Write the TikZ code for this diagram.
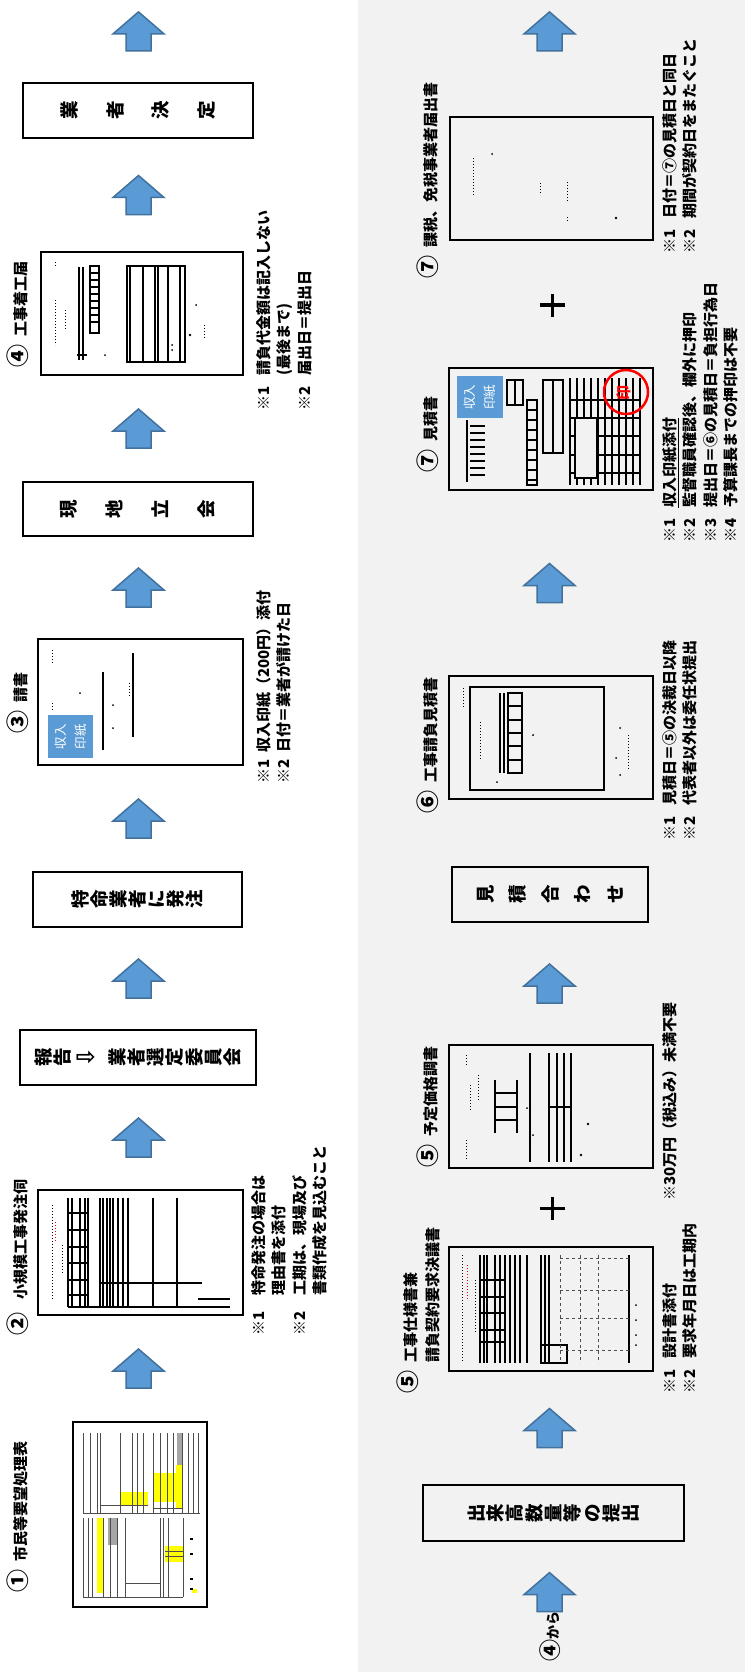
\documentclass[tikz,border=0pt]{standalone}
\usepackage{fontspec}
\setmainfont{Noto Sans CJK JP}
\newfontfamily\symfont{DejaVu Sans}
\usetikzlibrary{calc}

\definecolor{flowblue}{HTML}{5B9BD5}
\definecolor{flowedge}{HTML}{41719C}
\definecolor{panelgray}{HTML}{F2F2F2}
\definecolor{markyellow}{HTML}{FFFF00}

\newcommand{\maru}[2][8pt]{{\fontsize{23}{23}\selectfont #2}\hspace{#1}}
\newcommand{\kome}[2][35pt]{\makebox[#1][l]{※#2}}

\tikzset{
  framebox/.style={draw, line width=2.2pt, inner sep=0pt},
  boxtext/.style={rotate=90, align=center, inner sep=0pt, font=\bfseries\fontsize{18.5}{19.3}\selectfont},
  doclabel/.style={rotate=90, anchor=base west, inner sep=0pt, font=\bfseries\fontsize{15}{20}\selectfont},
  notetext/.style={rotate=90, anchor=north west, align=left, inner sep=0pt, font=\bfseries\fontsize{15}{20.5}\selectfont},
  stamptext/.style={rotate=90, align=left, inner sep=0pt, text=white, font=\fontsize{12.5}{20}\selectfont},
  formline/.style={line width=1.2pt},
  thinline/.style={line width=0.8pt, gray!60!black},
  marks/.style={dotted, line width=1pt},
  plusmark/.style={line width=3.3pt},
  uparr/.pic={
    \draw[fill=flowblue, draw=flowedge, line width=1.5pt]
      (-12.5,-19.5) -- (-12.5,-2.5) -- (-25.5,-2.5) -- (0,19.5)
      -- (25.5,-2.5) -- (12.5,-2.5) -- (12.5,-19.5) -- cycle;
  }
}

\begin{document}
\begin{tikzpicture}[x=1pt, y=1pt]
  \useasboundingbox (0,0) rectangle (745,-1672);
  \fill[white] (0,0) rectangle (358,-1672);
  \fill[panelgray] (358,0) rectangle (745,-1672);
  \coordinate (colA) at (138.5,0);
  \coordinate (colB) at (549.5,0);

  % ---- left column ----
  \node[framebox, minimum width=134pt, minimum height=185pt] (shimin) at (140,-1514.5) {};
  \node[doclabel] (shiminlbl) at (27,-1593) {\maru{①}市民等要望処理表};
  \fill[markyellow] (120,-1492) rectangle (148,-1505);
  \fill[markyellow] (154,-1473) rectangle (176,-1502);
  \fill[markyellow] (176,-1465) rectangle (183,-1508);
  \fill[markyellow] (97,-1518) rectangle (103,-1593);
  \fill[markyellow] (165,-1546) rectangle (183,-1562);
  \fill[markyellow] (192,-1589) rectangle (197,-1593);
  \fill[gray!70] (177,-1433) rectangle (183,-1465);
  \fill[gray!70] (108,-1518) rectangle (117,-1545);
  \foreach \x in {83,90,97,100,120,132,137,143,153,160,167,173,182,188,193,198}
    \draw[thinline] (\x,-1433) -- (\x,-1513);
  \foreach \x in {83,88,92,103,110,117,125,160,163,168,183}
    \draw[thinline] (\x,-1518) -- (\x,-1597);
  \draw[thinline] (83,-1513) -- (200,-1513) (100,-1505) -- (148,-1505) (153,-1508) -- (183,-1508);
  \draw[thinline] (83,-1597) -- (183,-1597) (125,-1583) -- (160,-1583) (165,-1551) -- (183,-1551) (165,-1556) -- (183,-1556);
  \foreach \y in {1538,1553,1578,1588}
    \fill (190,-\y) rectangle (193,-\y-2);

  \node[framebox, minimum width=205pt, minimum height=125pt] (ukagai) at (140.5,-1252.5) {};
  \node[doclabel] (ukagailbl) at (27,-1336) {\maru[13pt]{②}小規模工事発注伺};
  \foreach \x in {68,72,80,85,88,100,103,107,110,113,118,123,128,153,177}
    \draw[line width=1.5pt] (\x,-1198) -- (\x,-1307);
  \foreach \y in {1213,1230,1247,1263,1280,1295}
    \draw[line width=1.5pt] (68,-\y) -- (88,-\y);
  \draw[line width=1.5pt] (100,-1283) -- (202,-1283) (68,-1307) -- (230,-1307) (198,-1299) -- (230,-1299);
  \draw[marks] (52,-1205) -- (52,-1300) (62,-1245) -- (62,-1275);
  \draw[marks, red] (55,-1222) -- (55,-1242);
  \node[notetext] (ukagainote) at (251,-1336) {\kome[40pt]{1}特命発注の場合は\\\hspace*{40pt}理由書を添付\\\kome[40pt]{2}工期は、現場及び\\\hspace*{40pt}書類作成を見込むこと};

  \node[framebox, minimum width=236pt, minimum height=55pt] (houkoku) at (138,-1057.5) {};
  \node[boxtext] at (houkoku) {報\\告\\[6pt]{\symfont\fontsize{24}{19.3}\selectfont ⇩}\\[10pt]業\\者\\選\\定\\委\\員\\会};

  \node[framebox, minimum width=209pt, minimum height=55pt] (tokumei) at (137.5,-899.5) {};
  \node[boxtext, font=\bfseries\fontsize{18.5}{19}\selectfont] at (tokumei) {特\\命\\業\\者\\に\\発\\注};

  \node[framebox, minimum width=205pt, minimum height=126pt] (ukesho) at (140.5,-702) {};
  \node[doclabel] (ukesholbl) at (27,-734) {\maru{③}請書};
  \fill[flowblue] (48,-715) rectangle (93,-758);
  \node[stamptext] at (70.5,-736.5) {収入\\印紙};
  \draw[line width=2pt] (103,-672) -- (103,-750) (133,-653) -- (133,-737);
  \draw[marks] (52,-650) -- (52,-663) (52,-703) -- (52,-712) (129,-683) -- (129,-696);
  \fill (80,-693) circle (1) (113,-705) circle (1) (113,-728) circle (1);
  \node[notetext] (ukeshonote) at (256,-784) {\kome[31pt]{1}収入印紙（200円）添付\\\kome[31pt]{2}日付＝業者が請けた日};

  \node[framebox, minimum width=230pt, minimum height=54pt] (genchi) at (138,-509) {};
  \node[boxtext, font=\bfseries\fontsize{18.5}{46}\selectfont] at (genchi) {現\\地\\立\\会};

  \node[framebox, minimum width=202pt, minimum height=123pt] (chakko) at (142,-313.5) {};
  \node[doclabel] (chakkolbl) at (27,-368) {\maru{④}工事着工届};
  \draw[formline] (79,-267) -- (79,-360) (83,-267) -- (83,-360) (77,-355) -- (87,-355);
  \draw[formline] (90,-266) rectangle (99,-333);
  \foreach \y in {273,280,...,326}
    \draw[formline] (90,-\y) -- (99,-\y);
  \draw[line width=1.6pt] (127,-266) rectangle (185,-362);
  \foreach \x in {130,143,155,158,168,180}
    \draw[formline] (\x,-266) -- (\x,-362);
  \draw[marks] (55,-262) -- (55,-268) (55,-300) -- (55,-345) (65,-310) -- (65,-330) (204,-325) -- (204,-340);
  \fill (105,-355) circle (1) (190,-335) circle (1.3) (196,-305) circle (1) (172,-345) circle (1) (172,-350) circle (1);
  \node[notetext] (chakkonote) at (256,-411) {\kome{1}請負代金額は記入しない\\\hspace*{35pt}(最後まで)\\\kome{2}届出日＝提出日};

  \node[framebox, minimum width=230pt, minimum height=55pt] (kettei) at (138,-110.5) {};
  \node[boxtext, font=\bfseries\fontsize{18.5}{45.5}\selectfont] at (kettei) {業\\者\\決\\定};

  \path ($(colA |- shimin.north)!.5!(colA |- ukagai.south)$) pic {uparr};
  \path ($(colA |- ukagai.north)!.5!(colA |- houkoku.south)$) pic {uparr};
  \path ($(colA |- houkoku.north)!.5!(colA |- tokumei.south)$) pic {uparr};
  \path ($(colA |- tokumei.north)!.5!(colA |- ukesho.south)$) pic {uparr};
  \path ($(colA |- ukesho.north)!.5!(colA |- genchi.south)$) pic {uparr};
  \path ($(colA |- genchi.north)!.5!(colA |- chakko.south)$) pic {uparr};
  \path ($(colA |- chakko.north)!.5!(colA |- kettei.south)$) pic {uparr};
  \path ($(colA |- kettei.north)+(0,50.5)$) pic {uparr};

  % ---- right column ----
  \node[doclabel, font=\bfseries\fontsize{14}{14}\selectfont] (kara) at (558,-1662) {{\fontsize{22}{22}\selectfont ④}から};

  \node[framebox, minimum width=261pt, minimum height=56pt] (dekidaka) at (553.5,-1513) {};
  \node[boxtext] at (dekidaka) {出\\来\\高\\数\\量\\等\\の\\提\\出};

  \node[framebox, minimum width=204pt, minimum height=124pt] (shiyou) at (551,-1309) {};
  \node[doclabel] (shiyoulbl) at (416,-1394) {\maru{⑤}工事仕様書兼};
  \node[doclabel] (shiyoulbltwo) at (438,-1363) {請負契約要求決議書};
  \foreach \x in {480,484,487,495,500,505,510,515,520,527,541,545,549}
    \draw[formline] (\x,-1255) -- (\x,-1363);
  \foreach \y in {1280,1297,1313,1330,1342}
    \draw[formline] (480,-\y) -- (505,-\y);
  \draw[formline] (541,-1345) rectangle (567,-1363) (629,-1255) -- (629,-1363);
  \foreach \x in {560,580,598}
    \draw[dashed, thinline] (\x,-1255) -- (\x,-1363);
  \foreach \y in {1258,1290,1318,1350}
    \draw[dashed, thinline] (560,-\y) -- (629,-\y);
  \draw[marks] (462,-1255) -- (462,-1362) (475,-1280) -- (475,-1333);
  \draw[marks, red] (467,-1265) -- (467,-1300);
  \fill (636,-1305) circle (1) (636,-1320) circle (1) (636,-1335) circle (1) (636,-1345) circle (1);
  \node[notetext] (shiyounote) at (662,-1394) {\kome{1}設計書添付\\\kome{2}要求年月日は工期内};

  \coordinate (plusone) at (552.5,-1208.5);
  \draw[plusmark] ($(plusone)+(-12.5,0)$) -- ($(plusone)+(12.5,0)$) ($(plusone)+(0,-11.5)$) -- ($(plusone)+(0,11.5)$);

  \node[framebox, minimum width=204pt, minimum height=123pt] (yotei) at (551,-1106.5) {};
  \node[doclabel] (yoteilbl) at (436,-1168) {\maru{⑤}予定価格調書};
  \draw[line width=2pt] (495,-1080) -- (495,-1133) (517,-1080) -- (517,-1133);
  \foreach \y in {1093,1107,1120}
    \draw[line width=2pt] (495,-\y) -- (517,-\y);
  \foreach \x in {530,549,557,564,571}
    \draw[formline] (\x,-1053) -- (\x,-1162);
  \draw[formline] (549,-1107) -- (571,-1107);
  \draw[marks] (466,-1055) -- (466,-1065) (466,-1140) -- (466,-1160) (470,-1085) -- (470,-1110) (478,-1075) -- (478,-1100);
  \fill (527,-1108) circle (1) (533,-1135) circle (1) (588,-1124) circle (1.3) (581,-1155) circle (1.3);
  \node[notetext] (yoteinote) at (662,-1201) {※30万円（税込み）未満不要};

  \node[framebox, minimum width=196pt, minimum height=55pt] (mitsuawase) at (550,-894.5) {};
  \node[boxtext, font=\bfseries\fontsize{18.5}{32.5}\selectfont] at (mitsuawase) {見\\積\\合\\わ\\せ};

  \node[framebox, minimum width=204pt, minimum height=123pt] (seimitsu) at (551,-737.5) {};
  \node[doclabel] (seimitsulbl) at (436,-814) {\maru{⑥}工事請負見積書};
  \draw[line width=1.4pt] (470,-687) rectangle (604,-790);
  \draw[line width=2pt] (500,-693) -- (500,-773) (504,-693) -- (504,-773);
  \draw[formline] (508,-693) rectangle (522,-773);
  \foreach \y in {706,720,733,746,760}
    \draw[formline] (508,-\y) -- (522,-\y);
  \draw[marks] (463,-688) -- (463,-708) (480,-722) -- (480,-760) (628,-735) -- (628,-770);
  \fill (533,-735) circle (1) (497,-782) circle (1) (620,-728) circle (1) (616,-758) circle (1) (620,-775) circle (1);
  \node[notetext] (seimitsunote) at (662,-841) {\kome{1}見積日＝⑤の決裁日以降\\\kome{2}代表者以外は委任状提出};

  \node[framebox, minimum width=204pt, minimum height=122pt] (mitsumori) at (551,-429) {};
  \node[doclabel] (mitsumorilbl) at (436,-473) {\maru{⑦}見積書};
  \fill[flowblue] (457,-376) rectangle (503,-418);
  \node[stamptext] at (480,-397) {収入\\印紙};
  \draw[formline] (467,-420) -- (467,-482);
  \foreach \y in {426,433,...,480}
    \draw[formline] (470,-\y) -- (485,-\y);
  \draw[formline] (507,-380) rectangle (523,-405) (515,-380) -- (515,-405);
  \draw[formline] (527,-400) rectangle (537,-485);
  \foreach \y in {410,420,...,480}
    \draw[formline] (527,-\y) -- (537,-\y);
  \draw[formline] (543,-380) rectangle (563,-453) (553,-380) -- (553,-453);
  \foreach \x in {570,577,584,591,598,605,612,619,626,633,640}
    \draw[formline] (\x,-378) -- (\x,-485);
  \foreach \y in {400,418,436,455,473}
    \draw[formline] (570,-\y) -- (640,-\y);
  \draw[formline, fill=panelgray] (575,-418) rectangle (597,-478);
  \draw[red, line width=2.5pt] (626,-392) circle (22);
  \node[rotate=90, text=red, font=\bfseries\fontsize{15}{15}\selectfont] (inkan) at (623.5,-392.5) {印};
  \node[notetext] (mitsumorinote) at (662,-543) {\kome{1}\underline{収入印紙添付}\\\kome{2}監督職員確認後、欄外に押印\\\kome{3}提出日＝⑥の見積日＝負担行為日\\\kome{4}予算課長までの押印は不要};

  \coordinate (plustwo) at (552.5,-305);
  \draw[plusmark] ($(plustwo)+(-12.5,0)$) -- ($(plustwo)+(12.5,0)$) ($(plustwo)+(0,-11.5)$) -- ($(plustwo)+(0,11.5)$);

  \node[framebox, minimum width=203pt, minimum height=123pt] (menzei) at (551.5,-178.5) {};
  \node[doclabel] (menzeilbl) at (436,-279) {\maru{⑦}課税、免税事業者届出書};
  \draw[marks] (473,-158) -- (473,-195) (540,-183) -- (540,-195) (567,-182) -- (567,-203) (567,-217) -- (567,-223);
  \fill (492,-154) circle (1) (616,-218) circle (1.3);
  \node[notetext] (menzeinote) at (662,-254) {\kome{1}日付＝⑦の見積日と同日\\\kome{2}期間が契約日をまたぐこと};

  \path ($(colB |- dekidaka.south)+(0,-50)$) pic {uparr};
  \path ($(colB |- dekidaka.north)!.5!(colB |- shiyou.south)$) pic {uparr};
  \path ($(colB |- yotei.north)!.5!(colB |- mitsuawase.south)$) pic {uparr};
  \path ($(colB |- seimitsu.north)!.5!(colB |- mitsumori.south)$) pic {uparr};
  \path ($(colB |- menzei.north)+(0,84.5)$) pic {uparr};
\end{tikzpicture}
\end{document}
